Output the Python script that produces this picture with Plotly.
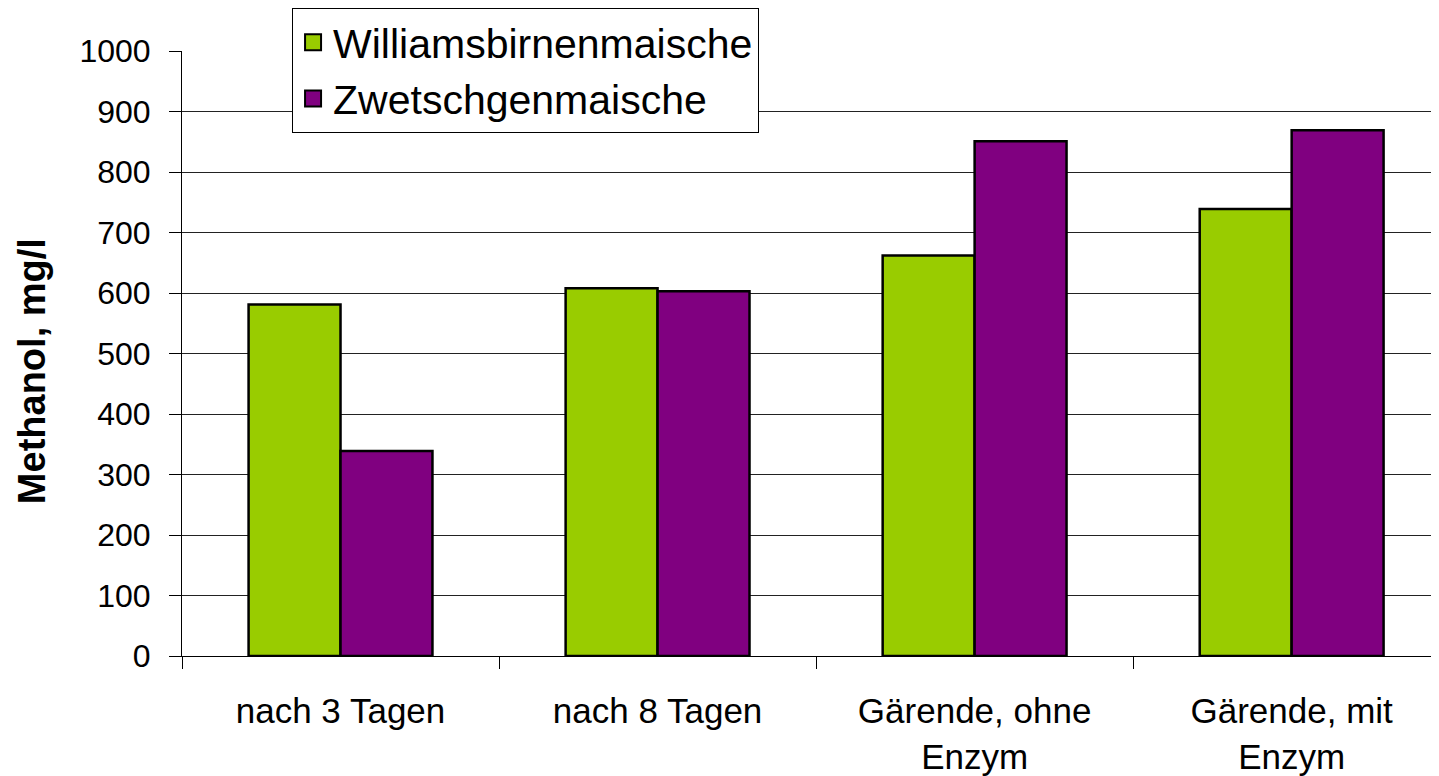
import plotly.graph_objects as go

categories = ["nach 3 Tagen", "nach 8 Tagen", "Gärende, ohne<br>Enzym", "Gärende, mit<br>Enzym"]
williams = [581, 608, 662, 739]
zwetschgen = [339, 603, 851, 869]
series_names = ["Williamsbirnenmaische", "Zwetschgenmaische"]
colors = ["#99CC00", "#800080"]
y_ticks = [0, 100, 200, 300, 400, 500, 600, 700, 800, 900, 1000]

FONT = "Liberation Sans, Arial, sans-serif"

fig = go.Figure()
for name, vals, col in zip(series_names, [williams, zwetschgen], colors):
    fig.add_trace(go.Bar(
        x=categories, y=vals, name=name, showlegend=False,
        marker=dict(color=col, line=dict(color="black", width=2.5)),
    ))
for name, col in zip(series_names, colors):
    fig.add_trace(go.Scatter(
        x=[None], y=[None], mode="markers", name=name,
        marker=dict(symbol="square", size=16, color=col, line=dict(color="black", width=2)),
    ))

fig.update_layout(
    width=1439, height=776,
    margin=dict(l=174, r=0, t=43, b=128),
    paper_bgcolor="white", plot_bgcolor="white",
    barmode="group", bargap=0.42, bargroupgap=0,
    font=dict(family=FONT, color="black"),
    legend=dict(
        x=0.087, y=1.071, xanchor="left", yanchor="top",
        bgcolor="white", bordercolor="black", borderwidth=1,
        font=dict(size=41, family=FONT, color="black"),
        itemsizing="trace",
    ),
    annotations=[dict(
        text="<b>Methanol, mg/l</b>", textangle=-90,
        xref="paper", yref="paper", x=-0.1185, y=0.471,
        xanchor="center", yanchor="middle", showarrow=False,
        font=dict(size=38, family=FONT, color="black"),
    )],
)
fig.update_xaxes(
    type="category", range=[-0.5, 3.49],
    showline=True, linecolor="black", linewidth=1,
    ticks="outside", tickson="boundaries", ticklen=12, tickcolor="black",
    tickfont=dict(size=35, family=FONT, color="black"),
    ticklabelstandoff=24,
    showgrid=False,
)
fig.update_yaxes(
    range=[0, 1000], tickvals=y_ticks,
    showline=True, linecolor="black", linewidth=1,
    ticks="outside", ticklen=12, tickcolor="black",
    tickfont=dict(size=32, family=FONT, color="black"),
    ticklabelstandoff=12,
    showgrid=True, gridcolor="#222222", gridwidth=1,
    zeroline=False,
)

fig.write_html("out.html")
